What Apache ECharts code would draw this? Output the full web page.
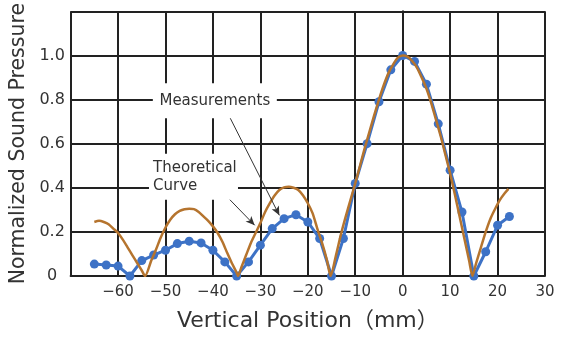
<!DOCTYPE html>
<html><head><meta charset="utf-8">
<script src="https://cdn.jsdelivr.net/npm/echarts@6/dist/echarts.min.js"></script>
<style>html,body{margin:0;padding:0;background:#fff}#c{width:568px;height:338px}</style>
</head><body><div id="c"></div>
<script>
// Measurements (blue dots)
const measX = [-65,-62.5,-60,-57.5,-55,-52.5,-50,-47.5,-45,-42.5,-40,-37.5,-35,-32.5,-30,-27.5,-25,-22.5,-20,-17.5,-15,-12.5,-10,-7.5,-5,-2.5,0,2.5,5,7.5,10,12.5,15,17.5,20,22.5];
const measY = [0.054,0.05,0.045,0.0,0.07,0.095,0.117,0.147,0.158,0.15,0.117,0.064,0.0,0.064,0.14,0.215,0.26,0.278,0.245,0.17,0.0,0.17,0.42,0.6,0.79,0.935,1.0,0.973,0.87,0.69,0.48,0.29,0.0,0.11,0.23,0.27];
// Theoretical curve (brown)
const theoX = [-65,-64,-63,-62,-61,-60,-59,-58,-57,-56,-55,-54.3,-53,-52,-51,-50,-49,-48,-47,-46,-45,-44,-43,-42,-41,-40,-39,-38,-37,-36,-35,-34.7,-34,-33,-32,-31,-30,-29,-28,-27,-26,-25,-24,-23,-22,-21,-20,-19,-18,-17,-16,-15.2,-14,-13,-12,-11,-10,-9,-8,-7,-6,-5,-4,-3,-2,-1,0,1,2,3,4,5,6,7,8,9,10,11,12,13,14,14.7,15.5,16.5,17.5,18.5,19.5,20.5,21.5,22.3];
const theoY = [0.245,0.25,0.245,0.235,0.215,0.195,0.165,0.13,0.095,0.06,0.025,0.0,0.07,0.12,0.175,0.22,0.255,0.28,0.295,0.303,0.305,0.303,0.29,0.27,0.25,0.225,0.195,0.155,0.105,0.058,0.015,0.0,0.04,0.095,0.15,0.195,0.24,0.29,0.33,0.365,0.39,0.402,0.405,0.4,0.39,0.365,0.33,0.285,0.215,0.15,0.075,0.0,0.1,0.19,0.27,0.345,0.42,0.5,0.58,0.655,0.73,0.8,0.865,0.92,0.96,0.99,1.0,0.995,0.975,0.945,0.9,0.85,0.785,0.71,0.635,0.55,0.465,0.37,0.27,0.17,0.07,0.0,0.06,0.13,0.2,0.26,0.305,0.345,0.375,0.395];
// Annotations (data coordinates)
const measLabelAt = [-39.6, 0.795];
const theoLabelAt = [-44.1, 0.45];
const measArrow = [[-36.9, 0.739], [-26.0, 0.275]];
const theoArrow = [[-37.7, 0.374], [-31.2, 0.23]];

const FONT = 'DejaVu Sans, Noto Sans CJK JP, sans-serif';
const chart = echarts.init(document.getElementById('c'), null, {renderer: 'canvas'});
const zip = (a, b) => a.map((v, i) => [v, b[i]]);

chart.setOption({
  backgroundColor: '#fff',
  animation: false,
  grid: {left: 68, right: 23, top: 10, bottom: 62},
  xAxis: {
    type: 'value', min: -70, max: 30, interval: 10,
    name: 'Vertical Position（mm）', nameLocation: 'middle', nameGap: 34,
    nameTextStyle: {fontFamily: FONT, fontSize: 22, color: '#333'},
    axisLine: {show: true, lineStyle: {color: '#222', width: 2}},
    axisTick: {show: false},
    axisLabel: {fontFamily: FONT, fontSize: 15, color: '#333', margin: 9,
      formatter: v => v === -70 ? '' : (v < 0 ? '\u2212' + Math.abs(v) : String(v))},
    splitLine: {show: true, lineStyle: {color: '#222', width: 2}}
  },
  yAxis: {
    type: 'value', min: 0, max: 1.2, interval: 0.2,
    name: 'Normalized Sound Pressure', nameLocation: 'middle', nameGap: 33,
    nameTextStyle: {fontFamily: FONT, fontSize: 20.5, color: '#333'},
    axisLine: {show: true, lineStyle: {color: '#222', width: 2}},
    axisTick: {show: false},
    axisLabel: {fontFamily: FONT, fontSize: 16, color: '#333', margin: 18.5, align: 'center',
      formatter: v => v > 1.1 ? '' : (v === 0 ? '0' : v.toFixed(1))},
    splitLine: {show: true, lineStyle: {color: '#222', width: 2}}
  },
  series: [
    {
      type: 'line', name: 'Measurements', data: zip(measX, measY),
      symbol: 'circle', symbolSize: 9, showSymbol: true,
      lineStyle: {color: '#3d72c6', width: 3}, itemStyle: {color: '#3d72c6'},
      z: 2,
      markPoint: {
        symbol: 'rect', silent: true, animation: false,
        data: [
          {coord: measLabelAt, symbolSize: [124, 35], itemStyle: {color: '#fff'},
           label: {show: true, position: 'inside', formatter: 'Measurements', color: '#333', fontFamily: FONT, fontSize: 15}},
          {coord: theoLabelAt, symbolSize: [89, 46], itemStyle: {color: '#fff'},
           label: {show: true, position: 'insideLeft', distance: 4, align: 'left', formatter: 'Theoretical\nCurve', lineHeight: 18, color: '#333', fontFamily: FONT, fontSize: 15}}
        ]
      },
      markLine: {
        silent: true, animation: false, symbol: ['none', 'arrow'], symbolSize: [6, 9],
        lineStyle: {color: '#333', width: 1, type: 'solid'}, label: {show: false},
        data: [
          [{coord: measArrow[0]}, {coord: measArrow[1]}],
          [{coord: theoArrow[0]}, {coord: theoArrow[1]}]
        ]
      }
    },
    {
      type: 'line', name: 'Theoretical Curve', data: zip(theoX, theoY),
      showSymbol: false, smooth: 0.25,
      lineStyle: {color: '#b5742e', width: 2.5}, itemStyle: {color: '#b5742e'},
      z: 3
    }
  ]
});
</script>
</body></html>
